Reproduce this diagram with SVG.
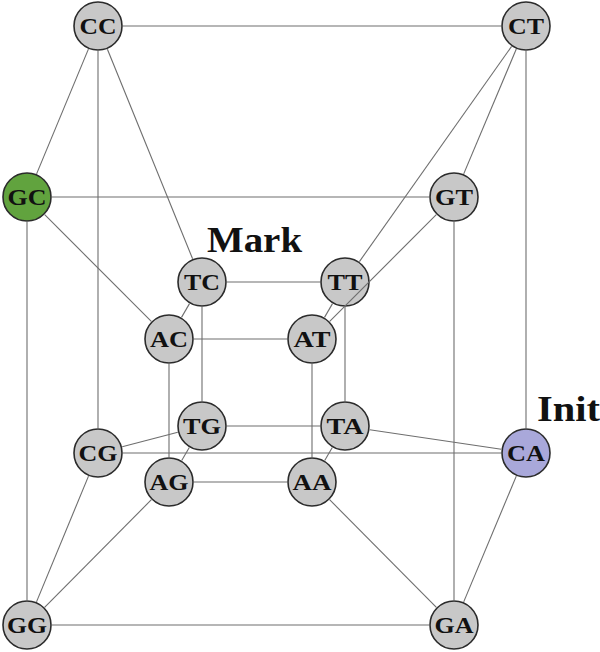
<svg xmlns="http://www.w3.org/2000/svg" width="600" height="652" viewBox="0 0 600 652">
<style>
.n circle{fill:#c8c8c8;stroke:#2b2b2b;stroke-width:1.6}
.n text{font-family:"Liberation Serif","DejaVu Serif",serif;font-weight:bold;font-size:24px;text-anchor:middle;fill:#111}
#edges line{stroke:#6e6e6e;stroke-width:1.1}
.lbl{font-family:"Liberation Serif","DejaVu Serif",serif;font-weight:bold;font-size:36px;fill:#111}
</style>
<rect width="600" height="652" fill="#fff"/>
<g id="nodes">
<g id="CC" class="n"><circle cx="98" cy="26" r="24"/><text x="98" y="34" textLength="37" lengthAdjust="spacingAndGlyphs">CC</text></g>
<g id="CT" class="n"><circle cx="526" cy="26" r="24"/><text x="526" y="34" textLength="36" lengthAdjust="spacingAndGlyphs">CT</text></g>
<g id="GC" class="n"><circle cx="27" cy="197" r="24" style="fill:#61a33e"/><text x="27" y="205" textLength="39" lengthAdjust="spacingAndGlyphs">GC</text></g>
<g id="GT" class="n"><circle cx="454" cy="197" r="24"/><text x="454" y="205" textLength="38" lengthAdjust="spacingAndGlyphs">GT</text></g>
<g id="TC" class="n"><circle cx="202" cy="282" r="24"/><text x="202" y="290" textLength="36" lengthAdjust="spacingAndGlyphs">TC</text></g>
<g id="TT" class="n"><circle cx="345" cy="282" r="24"/><text x="345" y="290" textLength="35" lengthAdjust="spacingAndGlyphs">TT</text></g>
<g id="AC" class="n"><circle cx="169" cy="339" r="24"/><text x="169" y="347" textLength="38" lengthAdjust="spacingAndGlyphs">AC</text></g>
<g id="AT" class="n"><circle cx="312" cy="339" r="24"/><text x="312" y="347" textLength="37" lengthAdjust="spacingAndGlyphs">AT</text></g>
<g id="TG" class="n"><circle cx="202" cy="426" r="24"/><text x="202" y="434" textLength="38" lengthAdjust="spacingAndGlyphs">TG</text></g>
<g id="TA" class="n"><circle cx="345" cy="426" r="24"/><text x="345" y="434" textLength="37" lengthAdjust="spacingAndGlyphs">TA</text></g>
<g id="CG" class="n"><circle cx="98" cy="453" r="24"/><text x="98" y="461" textLength="39" lengthAdjust="spacingAndGlyphs">CG</text></g>
<g id="CA" class="n"><circle cx="526" cy="453" r="24" style="fill:#a9a8da"/><text x="526" y="461" textLength="38" lengthAdjust="spacingAndGlyphs">CA</text></g>
<g id="AG" class="n"><circle cx="169" cy="482" r="24"/><text x="169" y="490" textLength="39" lengthAdjust="spacingAndGlyphs">AG</text></g>
<g id="AA" class="n"><circle cx="312" cy="482" r="24"/><text x="312" y="490" textLength="39" lengthAdjust="spacingAndGlyphs">AA</text></g>
<g id="GG" class="n"><circle cx="27" cy="625" r="24"/><text x="27" y="633" textLength="40" lengthAdjust="spacingAndGlyphs">GG</text></g>
<g id="GA" class="n"><circle cx="454" cy="625" r="24"/><text x="454" y="633" textLength="39" lengthAdjust="spacingAndGlyphs">GA</text></g>
</g>
<g id="edges">
<line x1="123" y1="26" x2="501" y2="26"/>
<line x1="88.4" y1="49.1" x2="36.6" y2="173.9"/>
<line x1="98" y1="51" x2="98" y2="428"/>
<line x1="107.4" y1="49.2" x2="192.6" y2="258.8"/>
<line x1="516.3" y1="49" x2="463.7" y2="173.9"/>
<line x1="526" y1="51" x2="526" y2="428"/>
<line x1="511.6" y1="46.4" x2="359.4" y2="261.6"/>
<line x1="52" y1="197" x2="429" y2="197"/>
<line x1="27" y1="222" x2="27" y2="600"/>
<line x1="44.7" y1="214.7" x2="151.3" y2="321.3"/>
<line x1="454" y1="222" x2="454" y2="600"/>
<line x1="436.3" y1="214.7" x2="329.7" y2="321.3"/>
<line x1="123" y1="453" x2="501" y2="453"/>
<line x1="88.5" y1="476.1" x2="36.5" y2="601.9"/>
<line x1="122.2" y1="446.7" x2="177.8" y2="432.3"/>
<line x1="516.3" y1="476.1" x2="463.7" y2="601.9"/>
<line x1="501.3" y1="449.3" x2="369.7" y2="429.7"/>
<line x1="52" y1="625" x2="429" y2="625"/>
<line x1="44.6" y1="607.3" x2="151.4" y2="499.7"/>
<line x1="436.4" y1="607.3" x2="329.6" y2="499.7"/>
<line x1="227" y1="282" x2="320" y2="282"/>
<line x1="189.5" y1="303.6" x2="181.5" y2="317.4"/>
<line x1="202" y1="307" x2="202" y2="401"/>
<line x1="332.5" y1="303.6" x2="324.5" y2="317.4"/>
<line x1="345" y1="307" x2="345" y2="401"/>
<line x1="194" y1="339" x2="287" y2="339"/>
<line x1="169" y1="364" x2="169" y2="457"/>
<line x1="312" y1="364" x2="312" y2="457"/>
<line x1="227" y1="426" x2="320" y2="426"/>
<line x1="189.3" y1="447.5" x2="181.7" y2="460.5"/>
<line x1="332.3" y1="447.5" x2="324.7" y2="460.5"/>
<line x1="194" y1="482" x2="287" y2="482"/>
</g>
<text class="lbl" x="207" y="252" textLength="95" lengthAdjust="spacingAndGlyphs">Mark</text>
<text class="lbl" x="537" y="421" textLength="63" lengthAdjust="spacingAndGlyphs">Init</text>
</svg>
